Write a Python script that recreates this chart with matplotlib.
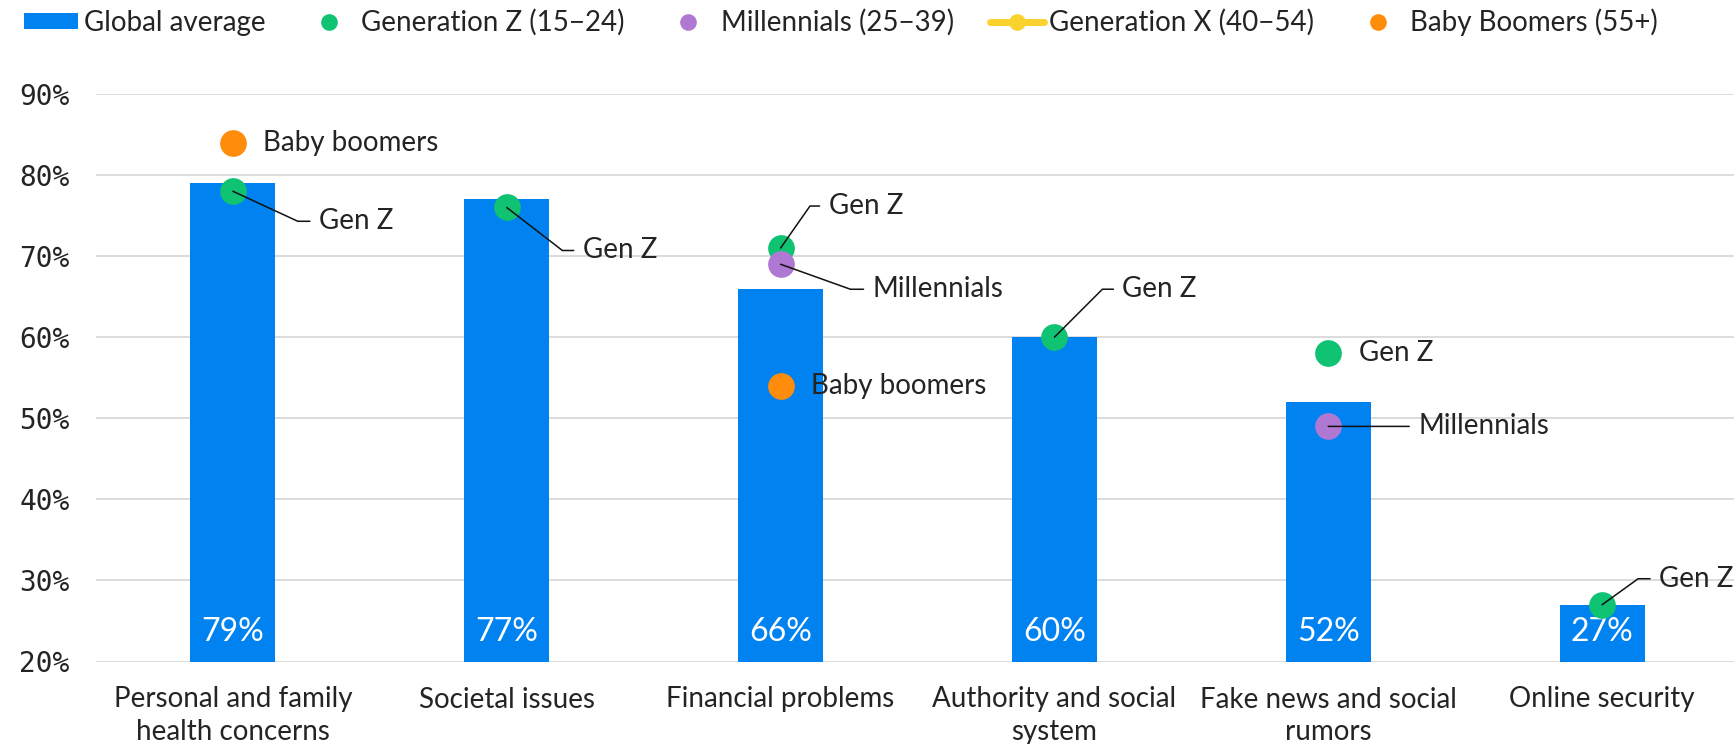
import numpy as np
import matplotlib
matplotlib.use("Agg")
import matplotlib.pyplot as plt
from matplotlib.lines import Line2D
from matplotlib.patches import Patch

# ---------------- data ----------------
categories = [
    "Personal and family\nhealth concerns",
    "Societal issues",
    "Financial problems",
    "Authority and social\nsystem",
    "Fake news and social\nrumors",
    "Online security",
]
global_average = [79, 77, 66, 60, 52, 27]
gen_z = [78, 76, 71, 60, 58, 27]
millennials = [np.nan, np.nan, 69, np.nan, 49, np.nan]
gen_x = [np.nan, np.nan, np.nan, np.nan, np.nan, np.nan]
baby_boomers = [84, np.nan, 54, np.nan, np.nan, np.nan]

series_names = ["Global average", "Generation Z (15\u221224)", "Millennials (25\u221239)",
                "Generation X (40\u221254)", "Baby Boomers (55+)"]
y_ticks = [20, 30, 40, 50, 60, 70, 80, 90]

# ---------------- style ----------------
BLUE = "#0082F0"
GREEN = "#0FC373"
PURPLE = "#AF78D2"
YELLOW = "#FAD22D"
ORANGE = "#FF8C0A"
TEXT = "#242424"
GRID = "#DCDCDC"
FONT = "Lato"

plt.rcParams["font.family"] = [FONT, "DejaVu Sans"]
plt.rcParams["text.color"] = TEXT

W, H = 1734, 744
fig = plt.figure(figsize=(W / 100, H / 100), dpi=100)
ax = fig.add_axes([96 / W, 82.5 / H, 1643 / W, 567.5 / H])

x = np.arange(len(categories))
ax.bar(x, global_average, width=0.31, bottom=0, color=BLUE, zorder=2)
ax.set_xlim(-0.5, len(categories) - 0.5)
ax.set_ylim(20, 90)
ax.set_yticks(y_ticks)
ax.set_yticklabels([f"{v}%" for v in y_ticks], family="DejaVu Sans Mono", fontsize=20, color=TEXT)
ax.set_xticks(x)
ax.set_xticklabels(categories, fontsize=20, color=TEXT, linespacing=1.3)
ax.tick_params(axis="x", length=0, pad=18)
ax.tick_params(axis="y", length=0, pad=19)
ax.grid(axis="y", color=GRID, linewidth=1.4, zorder=0)
ax.set_axisbelow(True)
for s in ax.spines.values():
    s.set_visible(False)

# bar value labels
for xi, v in zip(x, global_average):
    ax.annotate(f"{v}%", (xi, 20), xytext=(0, 21), textcoords="offset points",
                ha="center", va="center", color="white", fontsize=23, zorder=3)

# generation dots
dot_s = 370
ax.scatter(x, gen_z, s=dot_s, color=GREEN, zorder=4, linewidths=0)
ax.scatter(x, millennials, s=dot_s, color=PURPLE, zorder=5, linewidths=0)
ax.scatter(x, gen_x, s=dot_s, color=YELLOW, zorder=5, linewidths=0)
ax.scatter(x, baby_boomers, s=dot_s, color=ORANGE, zorder=5, linewidths=0)

# annotation layout: (category index, series, label, dx px, dy px, leader angle or None)
series_map = {"genz": gen_z, "mill": millennials, "bb": baby_boomers}
notes = [
    (0, "bb", "Baby boomers", 30, 0, None),
    (0, "genz", "Gen Z", 86, -30, -24.8),
    (1, "genz", "Gen Z", 76, -43, -37.7),
    (2, "genz", "Gen Z", 48, 42, 55),
    (2, "mill", "Millennials", 92, -25, -19.7),
    (2, "bb", "Baby boomers", 30, 0, None),
    (3, "genz", "Gen Z", 68, 48, 45),
    (4, "genz", "Gen Z", 31, 0, None),
    (4, "mill", "Millennials", 90, 0, "straight"),
    (5, "genz", "Gen Z", 57, 26, 35.8),
]
px2pt = 0.72
for ci, key, label, dx, dy, ang in notes:
    yv = series_map[key][ci]
    kw = dict(xytext=(dx * px2pt, dy * px2pt), textcoords="offset points",
              ha="left", va="center", fontsize=20, color=TEXT, zorder=6)
    if ang is not None:
        cs = "arc3" if ang == "straight" else f"angle,angleA=0,angleB={ang},rad=0"
        kw["arrowprops"] = dict(arrowstyle="-", color="#111111", lw=1.1,
                                connectionstyle=cs, relpos=(0, 0.5),
                                patchA=None, shrinkA=6.5, shrinkB=0)
    ax.annotate(label, (x[ci], yv), **kw)

# legend
handles = [
    Patch(facecolor=BLUE, edgecolor="none"),
    Line2D([], [], ls="none", marker="o", ms=12, color=GREEN, mew=0),
    Line2D([], [], ls="none", marker="o", ms=12, color=PURPLE, mew=0),
    Line2D([], [], ls="-", lw=5, marker="o", ms=12, color=YELLOW, mew=0,
           solid_capstyle="round"),
    Line2D([], [], ls="none", marker="o", ms=12, color=ORANGE, mew=0),
]
leg = fig.legend(handles, series_names, loc="center left",
                 bbox_to_anchor=(24 / W, 1 - 22 / H), bbox_transform=fig.transFigure,
                 ncol=5, frameon=False, fontsize=20, handlelength=1.95, handleheight=0.55,
                 handletextpad=0.2, columnspacing=1.3, borderpad=0, borderaxespad=0)
for t in leg.get_texts():
    t.set_color(TEXT)

fig.savefig("out.png", dpi=100)
